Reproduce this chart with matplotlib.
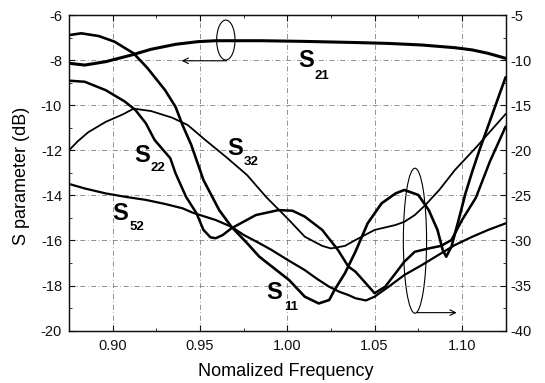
import matplotlib
matplotlib.use('Agg')
import matplotlib.pyplot as plt
from matplotlib.patches import Ellipse
import numpy as np

plt.rcParams['font.family'] = ['Liberation Sans', 'DejaVu Sans']

# S21 -> left axis (dB)
f_s21 = [0.875, 0.884, 0.896, 0.911, 0.922, 0.936, 0.949, 0.959, 0.985, 1.010,
         1.039, 1.058, 1.077, 1.096, 1.106, 1.115, 1.125]
s21 = [-8.14, -8.22, -8.07, -7.77, -7.52, -7.30, -7.18, -7.14, -7.14, -7.17,
       -7.22, -7.26, -7.33, -7.45, -7.55, -7.70, -7.92]

# the rest -> right axis (dB)
f_s11 = [0.875, 0.882, 0.892, 0.901, 0.912, 0.920, 0.930, 0.936, 0.940, 0.945,
         0.952, 0.961, 0.968, 0.977, 0.984, 1.001, 1.010, 1.018, 1.024, 1.027,
         1.033, 1.039, 1.046, 1.054, 1.062, 1.067, 1.075, 1.081, 1.086, 1.089,
         1.091, 1.094, 1.098, 1.102, 1.106, 1.110, 1.115, 1.120, 1.125]
s11 = [-7.23, -7.03, -7.33, -7.95, -9.25, -10.90, -13.33, -15.18, -17.20, -19.40,
       -23.30, -26.63, -28.48, -30.30, -31.80, -34.38, -36.23, -36.98, -36.60, -35.50,
       -33.63, -31.25, -28.10, -25.88, -24.78, -24.40, -24.95, -26.63, -28.83, -31.05,
       -31.80, -30.68, -27.80, -24.80, -22.30, -20.00, -17.30, -14.60, -11.90]

f_s22 = [0.875, 0.884, 0.896, 0.907, 0.913, 0.919, 0.924, 0.933, 0.936, 0.942,
         0.948, 0.952, 0.956, 0.959, 0.963, 0.968, 0.982, 0.995, 1.003, 1.010,
         1.020, 1.029, 1.035, 1.039, 1.045, 1.050, 1.056, 1.062, 1.067, 1.073,
         1.081, 1.088, 1.094, 1.100, 1.108, 1.116, 1.125]
s22 = [-12.28, -12.40, -13.33, -14.60, -15.53, -17.00, -18.85, -20.88, -22.55, -25.15,
       -26.98, -28.83, -29.65, -29.75, -29.40, -28.65, -27.18, -26.63, -26.70, -27.35,
       -28.83, -31.05, -32.90, -33.45, -34.75, -35.85, -35.13, -33.63, -32.35, -31.25,
       -30.88, -30.60, -29.95, -27.75, -25.25, -21.25, -17.38]

f_s32 = [0.875, 0.880, 0.886, 0.896, 0.906, 0.912, 0.922, 0.934, 0.943, 0.953,
         0.965, 0.977, 0.988, 1.001, 1.010, 1.020, 1.025, 1.033, 1.039, 1.050,
         1.062, 1.067, 1.073, 1.079, 1.087, 1.096, 1.108, 1.125]
s32 = [-20.00, -19.00, -18.00, -16.85, -16.00, -15.38, -15.65, -16.38, -17.20, -18.85,
       -20.75, -22.75, -25.20, -27.73, -29.58, -30.60, -30.88, -30.60, -29.95, -28.83,
       -28.28, -27.93, -27.18, -26.08, -24.40, -22.18, -19.70, -15.98]

f_s52 = [0.875, 0.884, 0.896, 0.907, 0.919, 0.930, 0.940, 0.946, 0.959, 0.968,
         0.975, 0.984, 0.991, 1.000, 1.010, 1.017, 1.024, 1.030, 1.035, 1.039,
         1.045, 1.050, 1.058, 1.067, 1.077, 1.088, 1.096, 1.106, 1.115, 1.125]
s52 = [-23.73, -24.23, -24.78, -25.15, -25.50, -25.95, -26.43, -26.93, -27.73, -28.48,
       -29.38, -30.30, -31.05, -32.13, -33.28, -34.25, -35.13, -35.70, -36.05, -36.40,
       -36.65, -36.23, -35.13, -33.83, -32.73, -31.43, -30.50, -29.58, -28.83, -28.10]

x_major = [0.90, 0.95, 1.00, 1.05, 1.10]
x_labels = ['0.90', '0.95', '1.00', '1.05', '1.10']
left_ticks = [-20, -18, -16, -14, -12, -10, -8, -6]
right_ticks = [-40, -35, -30, -25, -20, -15, -10, -5]

fig = plt.figure(figsize=(5.45, 3.83), dpi=100)
ax = fig.add_axes([0.1266, 0.1366, 0.8011, 0.8242])
ax2 = ax.twinx()

ax.set_xlim(0.875, 1.125)
ax.set_ylim(-20, -6)
ax2.set_ylim(-40, -5)

ax.set_xticks(x_major)
ax.set_xticklabels(x_labels)
ax.set_xticks(np.arange(0.875, 1.126, 0.025), minor=True)
ax.set_yticks(left_ticks)
ax.set_yticklabels([str(t) for t in left_ticks])
ax.set_yticks(np.arange(-20, -5.5, 1), minor=True)
ax2.set_yticks(right_ticks)
ax2.set_yticklabels([str(t) for t in right_ticks])
ax2.set_yticks(np.arange(-40, -4.9, 2.5), minor=True)

ax.tick_params(which='both', direction='in', top=True, labelsize=10.5, colors='#111111')
ax.tick_params(which='major', length=4)
ax.tick_params(which='minor', length=2.5)
ax.tick_params(axis='y', pad=5)
ax.tick_params(axis='x', pad=6)
ax2.tick_params(which='both', direction='in', labelsize=10.5, pad=3.5, colors='#111111')
ax2.tick_params(which='major', length=4)
ax2.tick_params(which='minor', length=2.5)

ax.grid(True, which='major', color='#808080', linestyle=(0, (6, 3, 1, 3)), linewidth=0.6)
for sp in list(ax.spines.values()) + list(ax2.spines.values()):
    sp.set_linewidth(0.9)
    sp.set_color('#111111')

style = dict(color='black', solid_joinstyle='round', solid_capstyle='round')
ax.plot(f_s21, s21, lw=2.2, **style)
ax2.plot(f_s11, s11, lw=1.9, **style)
ax2.plot(f_s22, s22, lw=1.8, **style)
ax2.plot(f_s32, s32, lw=1.3, **style)
ax2.plot(f_s52, s52, lw=1.6, **style)

# ellipses + arrows
ax.add_patch(Ellipse((0.9648, -7.11), 0.0105, 1.77, fill=False, lw=0.8, ec='black'))
ax.annotate('', xy=(0.9395, -8.03), xytext=(0.9653, -8.03),
            arrowprops=dict(arrowstyle='->', lw=0.8, color='black', shrinkA=0, shrinkB=0))
ax.add_patch(Ellipse((1.0731, -16.01), 0.0133, 6.43, fill=False, lw=0.8, ec='black'))
ax.annotate('', xy=(1.0970, -19.2), xytext=(1.0741, -19.2),
            arrowprops=dict(arrowstyle='->', lw=0.8, color='black', shrinkA=0, shrinkB=0))

# curve labels
labels = [('21', 1.0109, -8.03, 1.0199, -8.70),
          ('22', 0.9166, -12.24, 0.9259, -12.80),
          ('32', 0.9699, -11.91, 0.9792, -12.51),
          ('52', 0.9040, -14.80, 0.9139, -15.39),
          ('11', 0.9927, -18.32, 1.0021, -18.97)]
for sub, xs, ys, xn, yn in labels:
    ax.text(xs, ys, 'S', fontsize=17, fontweight='bold', ha='center', va='center')
    ax.text(xn, yn, sub, fontsize=9.5, fontweight='bold', ha='center', va='center')

fig.text(0.524, 1 - 372 / 383, 'Nomalized Frequency', fontsize=13, ha='center', va='center')
fig.text(21.5 / 545, 1 - 176 / 383, 'S parameter (dB)', fontsize=13, ha='center',
         va='center', rotation=90)

fig.savefig('out.png', dpi=100)
